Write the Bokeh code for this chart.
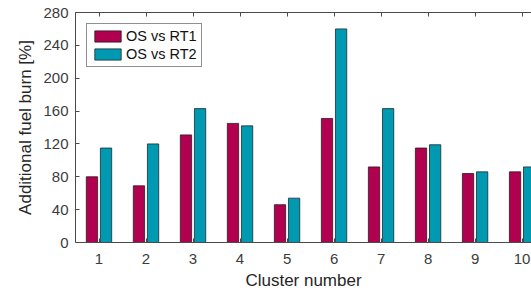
from bokeh.plotting import figure
from bokeh.models import (ColumnDataSource, Range1d, LinearAxis, FixedTicker,
                          Legend, LegendItem, Title)
from bokeh.embed import file_html
from bokeh.resources import INLINE

clusters = [1, 2, 3, 4, 5, 6, 7, 8, 9, 10]
os_vs_rt1 = [80, 69, 131, 145, 46, 151, 92, 115, 84, 86]
os_vs_rt2 = [115, 120, 163, 142, 54, 260, 163, 119, 86, 92]
y_ticks = [0, 40, 80, 120, 160, 200, 240, 280]
series_names = ["OS vs RT1", "OS vs RT2"]

RED = "#B0004F"
BLUE = "#0099B2"
AX = "#4a4a4a"
TXT = "#3c3c3c"
FONT = "Liberation Sans"

off = 0.15
bw = 0.24
src = ColumnDataSource(dict(
    x1=[c - off for c in clusters], y1=os_vs_rt1,
    x2=[c + off for c in clusters], y2=os_vs_rt2,
))

p = figure(width=531, height=293, output_backend="svg", toolbar_location=None,
           x_range=Range1d(0.5, 10.2), y_range=Range1d(0, 280),
           min_border_left=75, min_border_right=0, min_border_top=12,
           min_border_bottom=51)
p.background_fill_color = "white"
p.border_fill_color = "white"
p.outline_line_color = None
p.grid.visible = False

r1 = p.vbar(x="x1", top="y1", width=bw, source=src, fill_color=RED,
            line_color="#2a1a20", line_width=0.8)
r2 = p.vbar(x="x2", top="y2", width=bw, source=src, fill_color=BLUE,
            line_color="#1a2a30", line_width=0.8)

for ax in (p.xaxis[0], p.yaxis[0]):
    ax.axis_line_color = AX
    ax.major_tick_line_color = AX
    ax.major_tick_in = 4
    ax.major_tick_out = 0
    ax.minor_tick_line_color = None
    ax.major_label_text_font = FONT
    ax.major_label_text_font_size = "15px"
    ax.major_label_text_color = TXT
    ax.axis_label_text_font = FONT
    ax.axis_label_text_font_size = "17px"
    ax.axis_label_text_font_style = "normal"
    ax.axis_label_text_color = "#262626"

p.xaxis[0].ticker = FixedTicker(ticks=clusters)
p.xaxis[0].major_label_standoff = 11
p.yaxis[0].ticker = FixedTicker(ticks=y_ticks)
p.yaxis[0].major_label_standoff = 7
p.yaxis[0].axis_label = "Additional fuel burn [%]"
p.yaxis[0].axis_label_standoff = 5

top_ax = LinearAxis(ticker=FixedTicker(ticks=clusters), axis_line_color=AX,
                    major_tick_line_color=AX, major_tick_in=4, major_tick_out=0,
                    minor_tick_line_color=None, major_label_text_font_size="1px",
                    major_label_text_color=None, major_label_standoff=0)
p.add_layout(top_ax, "above")

xlab = Title(text="Cluster number", align="center", offset=6, standoff=4,
             text_font=FONT, text_font_size="17px", text_font_style="normal",
             text_color="#262626")
p.add_layout(xlab, "below")

legend = Legend(items=[LegendItem(label=series_names[0], renderers=[r1]),
                       LegendItem(label=series_names[1], renderers=[r2])],
                location="top_left", margin=11, padding=4, spacing=2,
                glyph_width=33, glyph_height=14, label_standoff=2,
                label_text_font=FONT, label_text_font_size="14.5px",
                label_text_color="#111111", label_height=14,
                border_line_color="#222222", border_line_width=1,
                background_fill_color="white", background_fill_alpha=1)
p.add_layout(legend)

open("out.html", "w").write(file_html(p, INLINE))
